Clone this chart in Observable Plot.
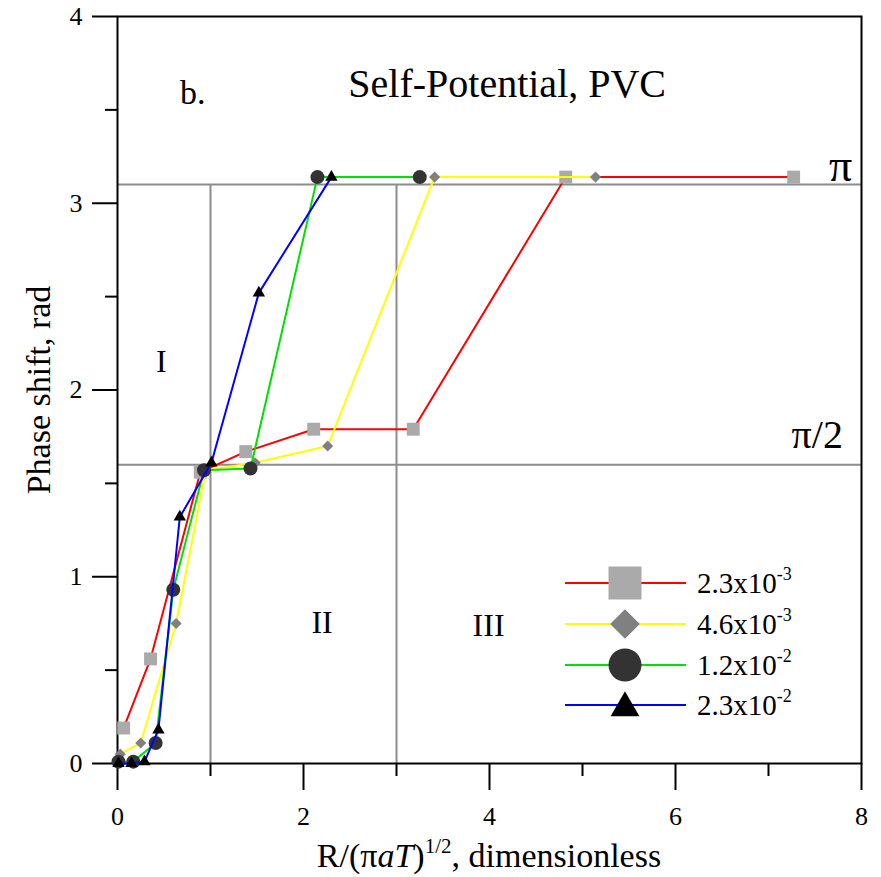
<!DOCTYPE html>
<html><head><meta charset="utf-8">
<script src="https://cdn.jsdelivr.net/npm/d3@7"></script>
<script src="https://cdn.jsdelivr.net/npm/@observablehq/plot@0.6"></script>
<style>
body{margin:0;background:#fff;}
#chart{width:881px;height:877px;}
</style></head><body><div id="chart"></div>
<script>
// ---- data ----
const seriesBase = ["2.3x10", "4.6x10", "1.2x10", "2.3x10"];
const seriesExp = ["-3", "-3", "-2", "-2"];
const redX = [0.066, 0.355, 0.89, 1.38, 2.11, 3.18, 4.82, 7.27];
const redY = [0.19, 0.56, 1.56, 1.67, 1.79, 1.79, 3.14, 3.14];
const yellowX = [0.03, 0.25, 0.63, 0.95, 1.48, 2.26, 3.41, 5.14];
const yellowY = [0.05, 0.11, 0.75, 1.57, 1.61, 1.70, 3.14, 3.14];
const greenX = [0.01, 0.17, 0.41, 0.60, 0.93, 1.43, 2.15, 3.25];
const greenY = [0.01, 0.01, 0.11, 0.93, 1.57, 1.58, 3.14, 3.14];
const blueX = [0.01, 0.15, 0.29, 0.44, 0.67, 1.01, 1.52, 2.30];
const blueY = [0.0, 0.0, 0.01, 0.18, 1.32, 1.61, 2.52, 3.14];
const refYLines = [3.1, 1.6];
const refXLines = [1, 3];
const xMajorTicks = [0, 2, 4, 6, 8];
const xMinorTicks = [1, 3, 5, 7];
const yMajorTicks = [0, 1, 2, 3, 4];
const yMinorTicks = [0.5, 1.5, 2.5, 3.5];
const regionLabels = ["I", "II", "III"];

// ---- styles ----
const lineColors = ["#ff0000", "#ffff00", "#00e000", "#0000ff"];
const symbols = ["square", "diamond2", "circle", "triangle"];
const symFill = ["#aaaaaa", "#808080", "#333333", "#000000"];
const symR = [7.3, 5.0, 7.0, 4.6];
const serif = "Liberation Serif";

const xs = [redX, yellowX, greenX, blueX];
const ys = [redY, yellowY, greenY, blueY];
const series = xs.map((X, i) => X.map((x, j) => ({x, y: ys[i][j]})));

const seriesMarks = [];
series.forEach((rows, i) => {
  seriesMarks.push(Plot.line(rows, {x: "x", y: "y", stroke: lineColors[i], strokeWidth: 2}));
  seriesMarks.push(Plot.dot(rows, {x: "x", y: "y", symbol: symbols[i], r: symR[i], fill: symFill[i], stroke: "none"}));
});

const fmt = d3.format("d");
const chart = Plot.plot({
  width: 881, height: 877,
  marginLeft: 117, marginRight: 20, marginTop: 16, marginBottom: 114,
  x: {domain: [0, 8], label: null},
  y: {domain: [0, 4], label: null},
  style: {fontFamily: serif, fontSize: "26px", background: "white", color: "black"},
  marks: [
    Plot.ruleY(refYLines, {stroke: "#8c8c8c", strokeWidth: 2}),
    Plot.ruleX(refXLines, {y1: 0, y2: 3.1, stroke: "#8c8c8c", strokeWidth: 2}),
    Plot.axisX({ticks: xMajorTicks, tickSize: 27, strokeWidth: 2, text: null, label: null}),
    Plot.axisX({ticks: xMinorTicks, tickSize: 13, strokeWidth: 2, text: null, label: null}),
    Plot.axisY({ticks: yMajorTicks, tickSize: 25, strokeWidth: 2, text: null, label: null}),
    Plot.axisY({ticks: yMinorTicks, tickSize: 12, strokeWidth: 2, text: null, label: null}),
    Plot.text(xMajorTicks, {x: d => d, frameAnchor: "bottom", lineAnchor: "top", dy: 43, text: fmt, fontSize: 26, fontFamily: serif}),
    Plot.text(yMajorTicks, {y: d => d, frameAnchor: "left", textAnchor: "end", dx: -35, text: fmt, fontSize: 26, fontFamily: serif}),
    Plot.frame({stroke: "black", strokeWidth: 2}),
    ...seriesMarks,
    Plot.text(["Self-Potential, PVC"], {x: 4.19, y: 3.64, text: d => d, fontSize: 40, fontFamily: serif}),
    Plot.text(["b."], {x: 0.81, y: 3.59, text: d => d, fontSize: 34, fontFamily: serif}),
    Plot.text([regionLabels[0]], {x: 0.47, y: 2.15, text: d => d, fontSize: 32, fontFamily: serif}),
    Plot.text([regionLabels[1]], {x: 2.2, y: 0.755, text: d => d, fontSize: 32, fontFamily: serif}),
    Plot.text([regionLabels[2]], {x: 3.99, y: 0.735, text: d => d, fontSize: 32, fontFamily: serif}),
    Plot.text(["π"], {x: 7.9, y: 3.2, text: d => d, fontSize: 46, textAnchor: "end", fontFamily: serif}),
    Plot.text(["π/2"], {x: 7.8, y: 1.76, text: d => d, fontSize: 40, textAnchor: "end", fontFamily: serif})
  ]
});
document.getElementById("chart").appendChild(chart);

const svg = d3.select(chart);
// y axis title
svg.append("text")
  .attr("transform", "translate(50,390) rotate(-90)")
  .attr("text-anchor", "middle")
  .attr("font-family", serif).attr("font-size", 34).attr("fill", "black")
  .text("Phase shift, rad");
// x axis title
const xt = svg.append("text")
  .attr("x", 489).attr("y", 867)
  .attr("text-anchor", "middle")
  .attr("font-family", serif).attr("font-size", 34).attr("fill", "black");
xt.append("tspan").text("R/(π");
xt.append("tspan").attr("font-style", "italic").text("aT");
xt.append("tspan").text(")");
xt.append("tspan").attr("font-size", 21).attr("dy", -14).text("1/2");
xt.append("tspan").attr("dy", 14).text(", dimensionless");

// legend
const legSize = [1089, 560, 855, 360];
const legendRowsY = [583, 624, 665, 705];
const leg = svg.append("g");
seriesBase.forEach((b, i) => {
  const yy = legendRowsY[i];
  leg.append("line").attr("x1", 565).attr("x2", 686).attr("y1", yy).attr("y2", yy)
    .attr("stroke", lineColors[i]).attr("stroke-width", 2);
  const symType = [d3.symbolSquare, d3.symbolDiamond2, d3.symbolCircle, d3.symbolTriangle][i];
  leg.append("path").attr("d", d3.symbol(symType, legSize[i])())
    .attr("transform", `translate(625,${yy + (i === 3 ? 3 : 0)})`).attr("fill", symFill[i]);
  const t = leg.append("text").attr("x", 697).attr("y", yy + 10)
    .attr("text-anchor", "start")
    .attr("font-family", serif).attr("font-size", 29).attr("fill", "black");
  t.append("tspan").text(b);
  t.append("tspan").attr("font-size", 18).attr("dy", -13).text(seriesExp[i]);
});
</script>
</body></html>
